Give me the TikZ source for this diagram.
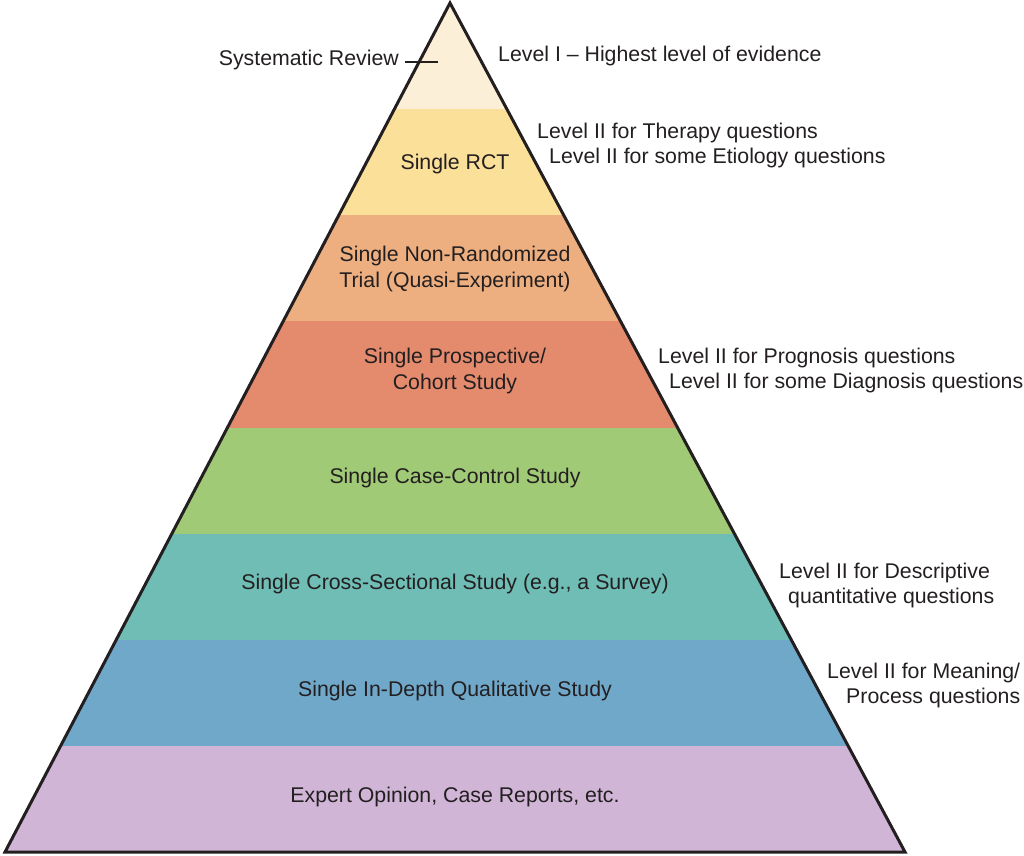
\documentclass[tikz,border=0pt]{standalone}
\usepackage{fontspec}
\setmainfont{Liberation Sans}
\definecolor{cI}{HTML}{FCEFD8}
\definecolor{cII}{HTML}{FBE09A}
\definecolor{cIII}{HTML}{EDAF80}
\definecolor{cIV}{HTML}{E48B6E}
\definecolor{cV}{HTML}{A1CA77}
\definecolor{cVI}{HTML}{6FBDB5}
\definecolor{cVII}{HTML}{70A8CA}
\definecolor{cVIII}{HTML}{D0B5D6}
\definecolor{ink}{HTML}{231F20}
\tikzset{
  lbl/.style={font=\fontsize{21.3}{25.5}\selectfont, text=ink, inner sep=0pt, align=center},
  rlbl/.style={lbl, anchor=west},
  outline/.style={draw=ink, line width=3pt, line join=miter}
}
\begin{document}
\begin{tikzpicture}[x=1pt,y=-1pt]
\useasboundingbox (0,0) rectangle (1024,855);
\coordinate (apex) at (450,3);
\coordinate (bl) at (5,852);
\coordinate (br) at (905,852);
\begin{scope}
\clip (apex) -- (br) -- (bl) -- cycle;
\fill[cI] (0,0) rectangle (1024,109);
\fill[cII] (0,109) rectangle (1024,215);
\fill[cIII] (0,215) rectangle (1024,321);
\fill[cIV] (0,321) rectangle (1024,428);
\fill[cV] (0,428) rectangle (1024,534);
\fill[cVI] (0,534) rectangle (1024,640);
\fill[cVII] (0,640) rectangle (1024,746);
\fill[cVIII] (0,746) rectangle (1024,852);
\end{scope}
\draw[outline] (apex) -- (br) -- (bl) -- cycle;
% inside labels
\node[lbl] (rct) at (455,164) {Single RCT};
\node[lbl] (nonrand) at (455,269) {Single Non-Randomized\\Trial (Quasi-Experiment)};
\node[lbl] (cohort) at (455,371) {Single Prospective/\\Cohort Study};
\node[lbl] (casecontrol) at (455,478) {Single Case-Control Study};
\node[lbl] (cross) at (455,584) {Single Cross-Sectional Study (e.g., a Survey)};
\node[lbl] (qual) at (455,691) {Single In-Depth Qualitative Study};
\node[lbl] (expert) at (455,797) {Expert Opinion, Case Reports, etc.};
% systematic review
\node[lbl, anchor=east] (sysrev) at (399,60) {Systematic Review};
\coordinate (tickr) at (438,62);
\draw[ink, line width=1.5pt] (sysrev.east) ++(6,2) -- (tickr);
% right labels
\node[rlbl] (l1) at (498,56) {Level I -- Highest level of evidence};
\node[rlbl] (l2a) at (537,133) {Level II for Therapy questions};
\node[rlbl] (l2b) at (549,158) {Level II for some Etiology questions};
\node[rlbl] (l3a) at (658,358) {Level II for Prognosis questions};
\node[rlbl] (l3b) at (669,383) {Level II for some Diagnosis questions};
\node[rlbl] (l4a) at (779,573) {Level II for Descriptive};
\node[rlbl] (l4b) at (788,598) {quantitative questions};
\node[rlbl] (l5a) at (827,673) {Level II for Meaning/};
\node[rlbl] (l5b) at (846,698) {Process questions};
\end{tikzpicture}
\end{document}
